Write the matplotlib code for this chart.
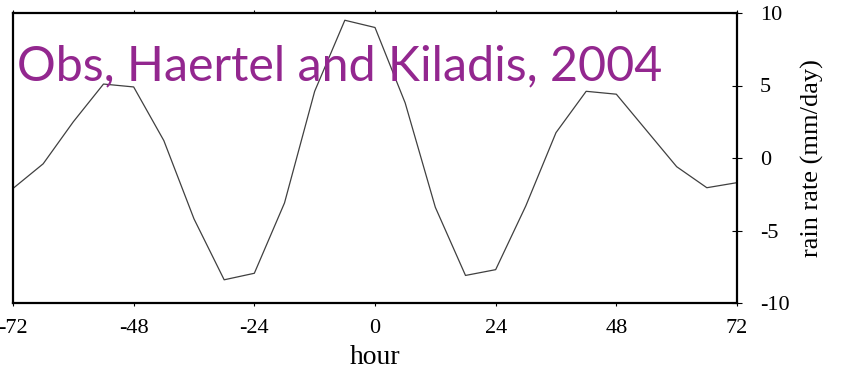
import matplotlib
matplotlib.use("Agg")
import matplotlib.pyplot as plt
import numpy as np

# composite rain rate, 6-hourly, lag in hours
hours = [-72, -66, -60, -54, -48, -42, -36, -30, -24, -18, -12, -6, 0,
         6, 12, 18, 24, 30, 36, 42, 48, 54, 60, 66, 72]
rain = [-2.1, -0.4, 2.5, 5.1, 4.9, 1.2, -4.2, -8.4, -7.95, -3.1, 4.6, 9.5, 9.0,
        3.8, -3.4, -8.1, -7.7, -3.3, 1.75, 4.6, 4.4, 1.9, -0.6, -2.05, -1.7]
xticks = [-72, -48, -24, 0, 24, 48, 72]
yticks = [-10, -5, 0, 5, 10]

W, H = 842, 377
fig = plt.figure(figsize=(W / 100, H / 100), dpi=100)
ax = fig.add_axes([13 / W, 1 - 303 / H, 724 / W, 290 / H])

ax.plot(hours, rain, color="#404040", lw=0.9)
ax.set_xlim(-72, 72)
ax.set_ylim(-10, 10)

for s in ax.spines.values():
    s.set_linewidth(1.6)

serif = "Liberation Serif"
ax.set_xticks(xticks)
ax.set_xticklabels([str(t) for t in xticks], family=serif, fontsize=16)
ax.set_yticks(yticks)
ax.set_yticklabels([str(t) for t in yticks], family=serif, fontsize=16)
ax.yaxis.tick_right()
ax.tick_params(axis="x", which="both", top=True, bottom=True,
               direction="out", length=2.5, width=0.8, pad=9)
ax.tick_params(axis="y", which="both", left=False, right=True,
               direction="inout", length=7, width=0.8, pad=13)

ax.set_xlabel("hour", family=serif, fontsize=20)
ax.xaxis.label.set_va("center")
ax.xaxis.set_label_coords(0.5, (303 - 357) / 290)
ax.yaxis.set_label_position("right")
ax.set_ylabel("rain rate (mm/day)", family=serif, fontsize=19)
ax.yaxis.label.set_va("center")
ax.yaxis.set_label_coords((812 - 13) / 724, 0.5)

fig.text(17 / W, 1 - 80 / H, "Obs, Haertel and Kiladis, 2004",
         family="Lato", fontsize=34.8, color="#93278f", va="baseline", ha="left")

fig.savefig("out.png", dpi=100)
